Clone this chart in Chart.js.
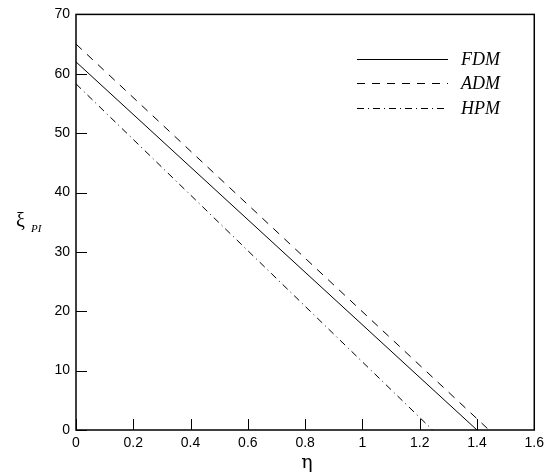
<!DOCTYPE html>
<html>
<head>
<meta charset="utf-8">
<script src="https://cdn.jsdelivr.net/npm/chart.js@4.4.1/dist/chart.umd.min.js"></script>
<style>
  html, body { margin: 0; padding: 0; background: #fff; }
  #wrap { width: 549px; height: 476px; }
</style>
</head>
<body>
<div id="wrap"><canvas id="grafico"></canvas></div>
<script>
// Datos (eta, xi_PI)
const etaFDM = [0, 1.4];
const xiFDM = [62, 0];
const etaADM = [0, 1.442];
const xiADM = [65, 0];
const etaHPM = [0, 1.245];
const xiHPM = [58.3, 0];

const etiquetas = ['FDM', 'ADM', 'HPM'];
const xTicks = [0, 0.2, 0.4, 0.6, 0.8, 1, 1.2, 1.4, 1.6];
const yTicks = [0, 10, 20, 30, 40, 50, 60, 70];

const puntos = (xs, ys) => xs.map((x, i) => ({ x, y: ys[i] }));

const fuenteTicks = { family: "'Liberation Sans', Arial, sans-serif", size: 14 };

// Marco, ticks hacia adentro, leyenda y títulos de ejes
const marco = {
  id: 'marco',
  afterDraw(chart) {
    const { ctx, chartArea: a, scales } = chart;
    ctx.save();
    ctx.strokeStyle = '#000';
    ctx.lineWidth = 1.5;
    ctx.strokeRect(a.left, a.top, a.right - a.left, a.bottom - a.top);

    ctx.lineWidth = 1;
    ctx.beginPath();
    xTicks.forEach(v => {
      const px = Math.round(scales.x.getPixelForValue(v)) + 0.5;
      ctx.moveTo(px, a.bottom);
      ctx.lineTo(px, a.bottom - 11);
    });
    yTicks.forEach(v => {
      const py = Math.round(scales.y.getPixelForValue(v)) + 0.5;
      ctx.moveTo(a.left, py);
      ctx.lineTo(a.left + 11, py);
    });
    ctx.stroke();

    // Leyenda
    const lx0 = 357, lx1 = 448, filas = [59, 83, 108];
    chart.data.datasets.forEach((ds, i) => {
      ctx.beginPath();
      ctx.setLineDash(ds.borderDash || []);
      ctx.lineWidth = 1;
      ctx.moveTo(lx0, filas[i] + 0.5);
      ctx.lineTo(lx1, filas[i] + 0.5);
      ctx.stroke();
      ctx.setLineDash([]);
      ctx.fillStyle = '#000';
      ctx.font = "italic 18px 'Liberation Serif', 'Times New Roman', serif";
      ctx.textBaseline = 'middle';
      ctx.textAlign = 'left';
      ctx.fillText(ds.label, 461, filas[i] + 1);
    });

    // Títulos de ejes
    ctx.font = "19px 'DejaVu Serif', serif";
    ctx.textAlign = 'center';
    ctx.textBaseline = 'alphabetic';
    ctx.fillText('η', 307, 468);

    ctx.textAlign = 'left';
    ctx.font = "20px 'Liberation Serif', serif";
    ctx.fillText('ξ', 16, 227);
    ctx.font = "italic 11px 'Liberation Serif', serif";
    ctx.fillText('PI', 31, 232);
    ctx.restore();
  }
};

new Chart(document.getElementById('grafico'), {
  type: 'line',
  data: {
    datasets: [
      {
        label: etiquetas[0],
        data: puntos(etaFDM, xiFDM),
        borderColor: '#000',
        borderWidth: 1,
        pointRadius: 0,
      },
      {
        label: etiquetas[1],
        data: puntos(etaADM, xiADM),
        borderColor: '#000',
        borderWidth: 1,
        borderDash: [8, 7],
        pointRadius: 0,
      },
      {
        label: etiquetas[2],
        data: puntos(etaHPM, xiHPM),
        borderColor: '#000',
        borderWidth: 1,
        borderDash: [7, 4, 1, 4],
        pointRadius: 0,
      },
    ],
  },
  options: {
    responsive: true,
    maintainAspectRatio: false,
    animation: false,
    layout: { padding: { left: 0, top: 13, right: 14, bottom: 0 } },
    plugins: { legend: { display: false }, tooltip: { enabled: false } },
    scales: {
      x: {
        type: 'linear',
        min: 0,
        max: 1.6,
        afterFit: s => { s.height = 46; },
        afterBuildTicks: s => { s.ticks = xTicks.map(v => ({ value: v })); },
        grid: { display: false, drawTicks: false },
        border: { display: false },
        ticks: {
          color: '#000',
          font: fuenteTicks,
          padding: 5,
          maxRotation: 0,
          autoSkip: false,
          callback: v => String(+Number(v).toFixed(1)),
        },
      },
      y: {
        type: 'linear',
        min: 0,
        max: 70,
        afterFit: s => { s.width = 76; },
        afterBuildTicks: s => { s.ticks = yTicks.map(v => ({ value: v })); },
        grid: { display: false, drawTicks: false },
        border: { display: false },
        ticks: {
          color: '#000',
          font: fuenteTicks,
          padding: 6,
          autoSkip: false,
          callback: v => String(v),
        },
      },
    },
  },
  plugins: [marco],
});
</script>
</body>
</html>
